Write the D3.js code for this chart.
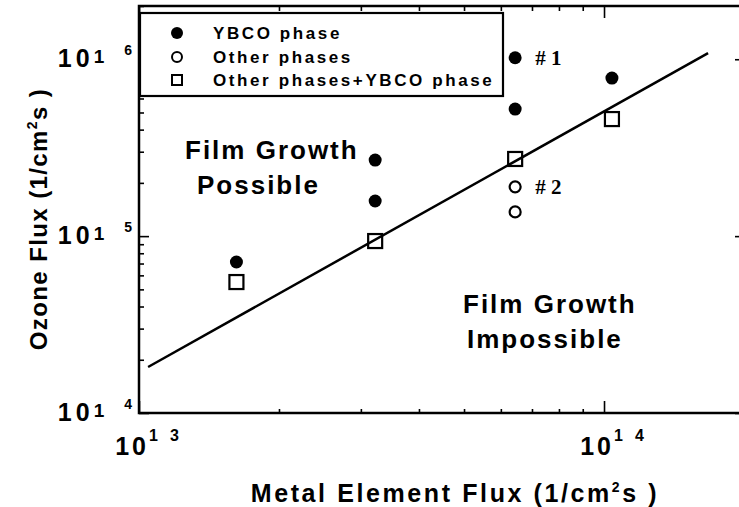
<!DOCTYPE html>
<html><head><meta charset="utf-8">
<script src="https://cdnjs.cloudflare.com/ajax/libs/d3/7.8.5/d3.min.js"></script>
<style>
body{margin:0;background:#fff}
svg{display:block;background:#fff}
text{font-family:"Liberation Sans",Arial,sans-serif;font-weight:bold;fill:#000}
</style>
</head><body>
<svg id="c" width="739" height="507"></svg>
<script>
// ---- data ----
const ybcoX  = [1.62e13, 3.22e13, 3.22e13, 6.44e13, 6.44e13, 1.04e14];
const ybcoY  = [7.14e14, 2.69e15, 1.58e15, 1.02e16, 5.23e15, 7.83e15];
const otherX = [6.44e13, 6.44e13];
const otherY = [1.90e15, 1.37e15];
const mixedX = [1.62e13, 3.22e13, 6.44e13, 1.04e14];
const mixedY = [5.50e14, 9.38e14, 2.73e15, 4.59e15];
const lineX  = [1.046e13, 1.674e14];
const lineY  = [1.82e14, 1.084e16];
const xDomain = [1e13, 2e14];
const yDomain = [1e14, 2e16];
const xMajor = [1e13, 1e14];
const xExp   = [["1", "3"], ["1", "4"]];
const yMajor = [1e14, 1e15, 1e16];
const yExp   = [["1", "4"], ["1", "5"], ["1", "6"]];
const legendLabels = ["YBCO phase", "Other phases", "Other phases+YBCO phase"];
const regionLines  = [["Film Growth", "Possible"], ["Film Growth", "Impossible"]];
const tagLabels = ["# 1", "# 2"];
const tagX = [6.44e13, 6.44e13];
const tagY = [1.02e16, 1.90e15];
const xTitle = "Metal Element Flux (1/cm";
const yTitle = "Ozone Flux (1/cm";

// ---- layout ----
const L = 139, R = 744, T = 6, B = 413;
const svg = d3.select("#c");
const x = d3.scaleLog().domain(xDomain).range([L, R]);
const y = d3.scaleLog().domain(yDomain).range([B, T]);

const isMajor = (v, arr) => arr.some(m => Math.abs(v / m - 1) < 1e-6);
const xMinor = x.ticks().filter(v => !isMajor(v, xMajor));
const yMinor = y.ticks().filter(v => !isMajor(v, yMajor));

function axisG(gen, tr) {
  const g = svg.append("g").attr("transform", tr).call(gen);
  g.select(".domain").remove();
  g.selectAll("line").attr("stroke", "#000").attr("stroke-width", 1.6);
  return g;
}
// minor ticks
axisG(d3.axisLeft(y).tickValues(yMinor).tickSize(-5).tickFormat(""), `translate(${L},0)`);
axisG(d3.axisRight(y).tickValues(yMinor).tickSize(-5).tickFormat(""), `translate(${R},0)`);
axisG(d3.axisBottom(x).tickValues(xMinor).tickSize(-4).tickFormat(""), `translate(0,${B})`);
axisG(d3.axisTop(x).tickValues(xMinor).tickSize(-5).tickFormat(""), `translate(0,${T})`);
// major ticks
axisG(d3.axisLeft(y).tickValues(yMajor).tickSize(-10).tickFormat(""), `translate(${L},0)`);
axisG(d3.axisRight(y).tickValues(yMajor).tickSize(-9).tickFormat(""), `translate(${R},0)`);
axisG(d3.axisBottom(x).tickValues(xMajor).tickSize(-12).tickFormat(""), `translate(0,${B})`);
axisG(d3.axisTop(x).tickValues(xMajor).tickSize(-12).tickFormat(""), `translate(0,${T})`);

// frame
svg.append("rect").attr("x", L).attr("y", T).attr("width", R - L).attr("height", B - T)
  .attr("fill", "none").attr("stroke", "#000").attr("stroke-width", 2.5);

// y tick labels
yMajor.forEach((v, i) => {
  const t = svg.append("text").attr("x", 132).attr("y", y(v) + 8)
    .attr("text-anchor", "end").style("font-size", "25px");
  t.append("tspan").style("letter-spacing", "4px").text("10");
  t.append("tspan").attr("dy", -4).style("font-size", "19px").text(yExp[i][0]);
  t.append("tspan").attr("dx", 20).attr("dy", -8).style("font-size", "14px").text(yExp[i][1]);
});
// x tick labels
xMajor.forEach((v, i) => {
  const t = svg.append("text").attr("x", x(v) + 8).attr("y", 455)
    .attr("text-anchor", "middle").style("font-size", "25px").style("letter-spacing", "3px");
  t.append("tspan").text("10");
  t.append("tspan").attr("dy", -14).style("font-size", "16px").style("letter-spacing", "0px").text(xExp[i][0]);
  t.append("tspan").attr("dx", 12).style("font-size", "16px").style("letter-spacing", "0px").text(xExp[i][1]);
});

// axis titles
function title(sel, s, fs, ls) {
  sel.style("font-size", fs + "px").style("letter-spacing", ls + "px");
  sel.append("tspan").text(s);
  sel.append("tspan").attr("dy", -10).style("font-size", "14px").text("2");
  sel.append("tspan").attr("dy", 10).text("s )");
}
title(svg.append("text").attr("x", 455).attr("y", 502).attr("text-anchor", "middle"), xTitle, 25, 2.6);
title(svg.append("text").attr("transform", "translate(47,219) rotate(-90)").attr("text-anchor", "middle"), yTitle, 24, 1.4);

// fit line
svg.append("path")
  .datum(lineX.map((v, i) => [v, lineY[i]]))
  .attr("d", d3.line().x(d => x(d[0])).y(d => y(d[1])))
  .attr("fill", "none").attr("stroke", "#000").attr("stroke-width", 2.5);

// markers
svg.append("g").selectAll("circle").data(ybcoX.map((v, i) => [v, ybcoY[i]])).join("circle")
  .attr("cx", d => x(d[0])).attr("cy", d => y(d[1])).attr("r", 6.5).attr("fill", "#000");
svg.append("g").selectAll("circle").data(otherX.map((v, i) => [v, otherY[i]])).join("circle")
  .attr("cx", d => x(d[0])).attr("cy", d => y(d[1])).attr("r", 5.5)
  .attr("fill", "#fff").attr("stroke", "#000").attr("stroke-width", 2.2);
const sq = 14;
svg.append("g").selectAll("rect").data(mixedX.map((v, i) => [v, mixedY[i]])).join("rect")
  .attr("x", d => x(d[0]) - sq / 2).attr("y", d => y(d[1]) - sq / 2)
  .attr("width", sq).attr("height", sq)
  .attr("fill", "none").attr("stroke", "#000").attr("stroke-width", 2.2);

// tags #1 #2
tagLabels.forEach((s, i) => {
  svg.append("text").attr("x", x(tagX[i]) + 20).attr("y", y(tagY[i]) + 7)
    .style("font-family", "'Liberation Serif','Times New Roman',serif")
    .style("font-size", "21px").text(s);
});

// region labels
const regionPos = [[[185, 159], [197, 194]], [[463, 313], [467, 348]]];
regionLines.forEach((lines, i) => {
  lines.forEach((s, j) => {
    svg.append("text").attr("x", regionPos[i][j][0]).attr("y", regionPos[i][j][1])
      .style("font-size", "26px").style("letter-spacing", "2px").text(s);
  });
});

// legend
const lg = svg.append("g");
lg.append("rect").attr("x", 140).attr("y", 13).attr("width", 363).attr("height", 83)
  .attr("fill", "#fff").attr("stroke", "#000").attr("stroke-width", 2.2);
const rowY = [33, 57, 80];
lg.append("circle").attr("cx", 177).attr("cy", rowY[0]).attr("r", 6).attr("fill", "#000");
lg.append("circle").attr("cx", 177).attr("cy", rowY[1]).attr("r", 5)
  .attr("fill", "#fff").attr("stroke", "#000").attr("stroke-width", 2);
lg.append("rect").attr("x", 172).attr("y", rowY[2] - 5).attr("width", 10).attr("height", 10)
  .attr("fill", "none").attr("stroke", "#000").attr("stroke-width", 2);
legendLabels.forEach((s, i) => {
  lg.append("text").attr("x", 213).attr("y", rowY[i] + 6)
    .style("font-size", "17px").style("letter-spacing", "2.6px").text(s);
});
</script>
</body></html>
